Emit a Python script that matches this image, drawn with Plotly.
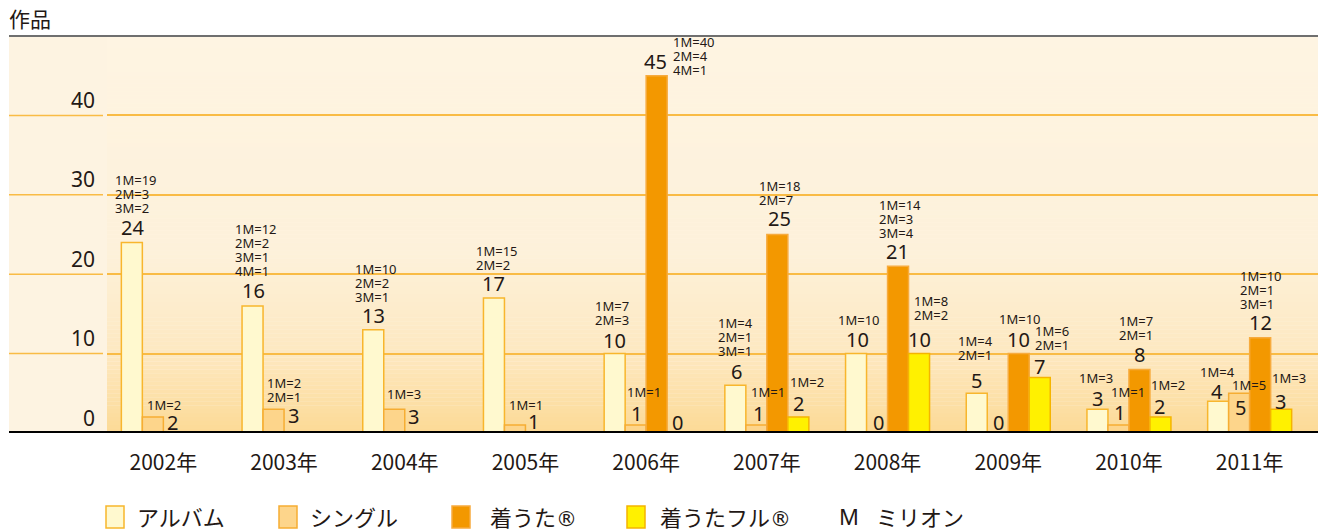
import plotly.graph_objects as go

# ---------------- data ----------------
years = ["2002年", "2003年", "2004年", "2005年", "2006年",
         "2007年", "2008年", "2009年", "2010年", "2011年"]
album = [24, 16, 13, 17, 10, 6, 10, 5, 3, 4]
single = [2, 3, 3, 1, 1, 1, 0, 0, 1, 5]
chaku = [None, None, None, None, 45, 25, 21, 10, 8, 12]
chaku_full = [None, None, None, None, 0, 2, 10, 7, 2, 3]

album_m = [["1M=19", "2M=3", "3M=2"], ["1M=12", "2M=2", "3M=1", "4M=1"],
           ["1M=10", "2M=2", "3M=1"], ["1M=15", "2M=2"], ["1M=7", "2M=3"],
           ["1M=4", "2M=1", "3M=1"], ["1M=10"], ["1M=4", "2M=1"], ["1M=3"], ["1M=4"]]
single_m = [["1M=2"], ["1M=2", "2M=1"], ["1M=3"], ["1M=1"], ["1M=1"], ["1M=1"],
            [], [], ["1M=1"], ["1M=5"]]
chaku_m = [[], [], [], [], ["1M=40", "2M=4", "4M=1"], ["1M=18", "2M=7"],
           ["1M=14", "2M=3", "3M=4"], ["1M=10"], ["1M=7", "2M=1"],
           ["1M=10", "2M=1", "3M=1"]]
chaku_full_m = [[], [], [], [], [], ["1M=2"], ["1M=8", "2M=2"], ["1M=6", "2M=1"],
                ["1M=2"], ["1M=3"]]

series_names = ["アルバム", "シングル", "着うた®", "着うたフル®"]
y_tick_values = [0, 10, 20, 30, 40]
y_title = "作品"
million_key = ("M", "ミリオン")

# ---------------- style / layout ----------------
W, H = 1318, 532
ML, MR, MT, MB = 107, 0, 36, 99
PW, PH = W - ML - MR, H - MT - MB
YMAX = 50
CAT_W = 120.7
FIRST_CENTER = 163.35
x_start = -(FIRST_CENTER - ML) / CAT_W
x_end = x_start + PW / CAT_W

FONT = "Noto Sans, Noto Sans CJK JP, sans-serif"
JFONT = "Noto Sans CJK JP, Noto Sans, sans-serif"
TXT = "#231815"

fills = ["#fff9cf", "#fdd58b", "#f39800", "#fff100"]
lines = ["#f8b62d", "#f6ad33", "#f7ab3e", "#f5b400"]


def px_x(px):
    return (px - ML) / PW


def px_y(py):
    return (H - MB - py) / PH


def legend_text(t):
    # render the registered mark full-size like the reference
    return t.replace("®", '<span style="font-family:DejaVu Sans;font-size:21px">®</span>')


# label offsets (px): number (dx, dy above bar top), million text (dx of left edge, dy of bottom line)
num_off = [
    [(-31.0, 15.4), (-30.3, 15.0), (-31.4, 14.0), (-31.6, 14.8), (-32.1, 13.1),
     (-30.8, 13.9), (-30.0, 14.4), (-32.2, 12.6), (-31.1, 10.2), (-32.4, 9.5)],
    [(9.1, -5.4), (9.0, -6.3), (8.9, -7.5), (8.2, 3.1), (-10.1, 11.1),
     (-8.3, 11.1), (-9.5, 10.5), (-9.5, 10.5), (-9.9, 12.1), (-9.1, -13.7)],
    [None] * 4 + [(9.8, 14.7), (12.3, 15.8), (10.4, 14.6), (10.5, 14.6), (10.5, 14.5), (10.8, 15.2)],
    [None] * 4 + [(31.3, 10.5), (32.1, 13.6), (32.4, 14.6), (31.2, 11.4), (30.7, 10.4), (30.6, 7.5)],
]
m_off = [
    [(-47.6, 34.9), (-48.0, 35.0), (-48.7, 32.8), (-48.8, 33.5), (-50.1, 33.6),
     (-47.8, 34.4), (-48.2, 33.6), (-48.9, 38.6), (-48.9, 30.9), (-48.9, 29.5)],
    [(-15.6, 12.6), (-16.0, 11.7), (-16.4, 15.0), (-15.4, 19.8), (-17.8, 33.1),
     (-15.1, 33.1), None, None, (-16.6, 32.6), (-16.3, 8.3)],
    [None] * 4 + [(28.1, 5.7), (-6.8, 34.8), (-7.5, 32.8), (-8.2, 34.6), (-8.9, 34.0), (-8.9, 33.9)],
    [None] * 5 + [(24.1, 35.6), (27.4, 38.9), (27.4, 32.4), (22.7, 31.8), (23.0, 30.9)],
]
LINE_STEP = 14

all_values = [album, single, chaku, chaku_full]
all_m = [album_m, single_m, chaku_m, chaku_full_m]

fig = go.Figure()
for name, vals, fc, lc in zip(series_names, all_values, fills, lines):
    fig.add_trace(go.Bar(
        x=years, y=vals, name=name, showlegend=False,
        marker=dict(color=fc, line=dict(color=lc, width=1.5)),
        hoverinfo="skip",
    ))

annotations = []
shapes = []

# value and million labels
for s, (vals, mlists) in enumerate(zip(all_values, all_m)):
    for i, v in enumerate(vals):
        if v is None:
            continue
        off = num_off[s][i]
        if off is not None:
            annotations.append(dict(
                x=years[i], y=v, xref="x", yref="y", text=str(v), showarrow=False,
                xanchor="center", yanchor="middle", xshift=off[0], yshift=off[1],
                font=dict(family=FONT, size=20, color=TXT), borderpad=0, borderwidth=0))
        mo = m_off[s][i]
        ml = mlists[i]
        if mo is not None and ml:
            n = len(ml)
            for j, t in enumerate(ml):
                k = n - 1 - j
                annotations.append(dict(
                    x=years[i], y=v, xref="x", yref="y", text=t, showarrow=False,
                    xanchor="left", yanchor="middle", xshift=mo[0] - 1,
                    yshift=mo[1] + LINE_STEP * k,
                    font=dict(family=FONT, size=13, color=TXT), borderpad=0, borderwidth=0))

# y tick labels
for tv in y_tick_values:
    annotations.append(dict(
        x=px_x(95), y=tv, xref="paper", yref="y", text=str(tv), showarrow=False,
        xanchor="right", yanchor="middle", yshift=15.5,
        font=dict(family=FONT, size=21, color=TXT), borderpad=0, borderwidth=0))

# axis title
annotations.append(dict(
    x=px_x(9), y=px_y(18), xref="paper", yref="paper", text=y_title, showarrow=False,
    xanchor="left", yanchor="middle", font=dict(family=JFONT, size=21, color=TXT),
    borderpad=0, borderwidth=0))


# gradient background bands
def lerp(c1, c2, t):
    return tuple(round(a + (b - a) * t) for a, b in zip(c1, c2))


stops = [(0.0, (252, 218, 150)), (0.2, (253, 232, 192)), (0.45, (253, 241, 218)), (1.0, (254, 244, 226))]


def grad(t):
    for (t0, c0), (t1, c1) in zip(stops[:-1], stops[1:]):
        if t <= t1:
            return lerp(c0, c1, (t - t0) / (t1 - t0))
    return stops[-1][1]


NB = 100
for b in range(NB):
    y0 = YMAX * b / NB
    y1 = YMAX * (b + 1) / NB
    c = grad((b + 0.5) / NB)
    shapes.append(dict(type="rect", xref="paper", yref="y", x0=0, x1=1, y0=y0, y1=y1 + 0.01,
                       fillcolor="rgb(%d,%d,%d)" % c, line=dict(width=0), layer="below"))

# left panel
shapes.append(dict(type="rect", xref="paper", yref="paper", x0=px_x(9), x1=0, y0=0, y1=1,
                   fillcolor="#fdf3e1", line=dict(width=0), layer="below"))
for tv in [10, 20, 30, 40]:
    shapes.append(dict(type="line", xref="paper", yref="y", x0=px_x(9), x1=px_x(103), y0=tv, y1=tv,
                       line=dict(color="#f9bb45", width=1.5), layer="below"))
# top gray line and bottom black axis line
shapes.append(dict(type="line", xref="paper", yref="paper", x0=px_x(9), x1=1, y0=1, y1=1,
                   line=dict(color="#6f6f6f", width=2), layer="above"))
shapes.append(dict(type="line", xref="paper", yref="y", x0=px_x(9), x1=1, y0=0, y1=0,
                   line=dict(color="#000000", width=4), layer="above"))

# legend (manual)
leg_sq_x = [106, 279, 452, 627]
leg_tx_x = [137, 310, 490, 660]
LEG_Y = 516
LEG_FS = 22
for k in range(4):
    shapes.append(dict(type="rect", xref="paper", yref="paper",
                       x0=px_x(leg_sq_x[k]), x1=px_x(leg_sq_x[k] + 18),
                       y0=px_y(LEG_Y + 12), y1=px_y(LEG_Y - 10),
                       fillcolor=fills[k], line=dict(color=lines[k], width=1.5)))
    annotations.append(dict(x=px_x(leg_tx_x[k]), y=px_y(LEG_Y), xref="paper", yref="paper",
                            text=legend_text(series_names[k]), showarrow=False,
                            xanchor="left", yanchor="middle",
                            font=dict(family=JFONT, size=LEG_FS, color=TXT), borderpad=0, borderwidth=0))
annotations.append(dict(x=px_x(839), y=px_y(LEG_Y), xref="paper", yref="paper",
                        text=million_key[0], showarrow=False, xanchor="left", yanchor="middle",
                        font=dict(family=FONT, size=LEG_FS, color=TXT), borderpad=0, borderwidth=0))
annotations.append(dict(x=px_x(876), y=px_y(LEG_Y), xref="paper", yref="paper",
                        text=million_key[1], showarrow=False, xanchor="left", yanchor="middle",
                        font=dict(family=JFONT, size=LEG_FS, color=TXT), borderpad=0, borderwidth=0))

fig.update_layout(
    width=W, height=H,
    margin=dict(l=ML, r=MR, t=MT, b=MB, pad=0),
    paper_bgcolor="white", plot_bgcolor="#fef4e2",
    barmode="group", bargap=0.304, bargroupgap=0,
    showlegend=False,
    xaxis=dict(type="category", range=[x_start, x_end], showgrid=False, showline=False,
               zeroline=False, ticks="outside", ticklen=11, tickcolor="rgba(0,0,0,0)",
               tickfont=dict(family=JFONT, size=21, color=TXT), fixedrange=True),
    yaxis=dict(range=[0, YMAX], tickvals=[10, 20, 30, 40], showticklabels=False,
               showgrid=True, gridcolor="#f9bb45", gridwidth=1.5, zeroline=False,
               showline=False, ticks="", fixedrange=True),
    annotations=annotations, shapes=shapes,
)

fig.write_html("out.html", config={"displayModeBar": False},
               post_script="document.body.style.margin='0';")
